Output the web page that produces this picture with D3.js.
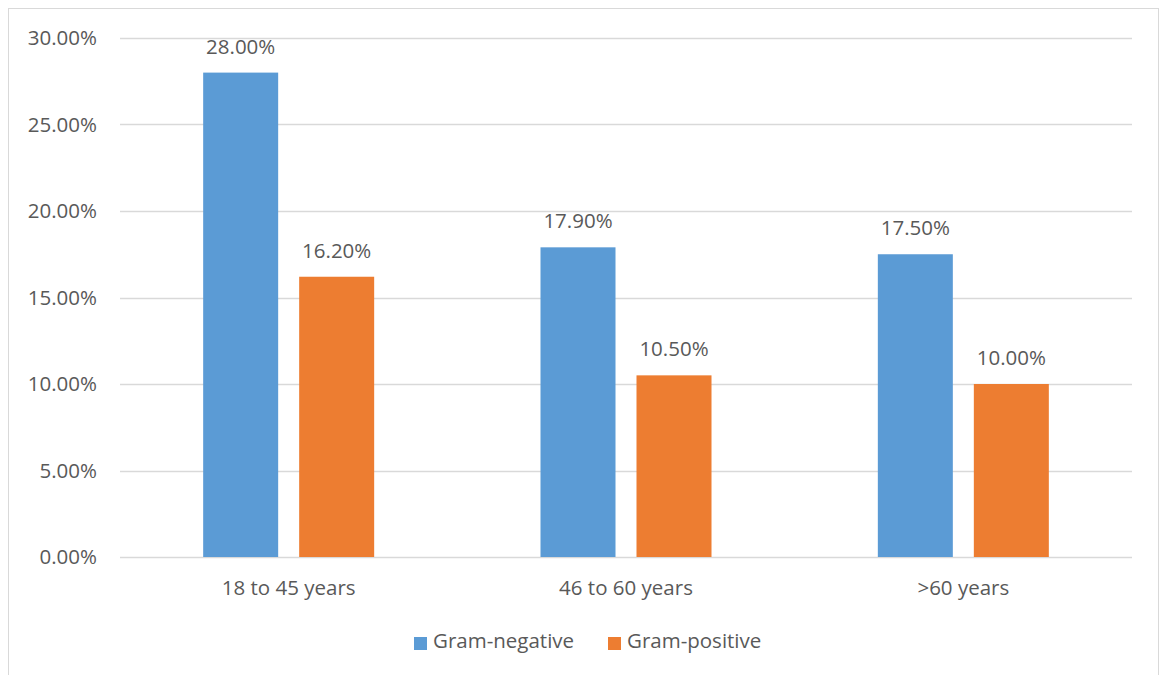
<!DOCTYPE html>
<html>
<head>
<meta charset="utf-8">
<script src="https://cdn.jsdelivr.net/npm/d3@7"></script>
<style>
  html, body { margin: 0; padding: 0; background: #fff; }
  svg text { font-family: "Open Sans", "Liberation Sans", sans-serif; fill: #595959; }
</style>
</head>
<body>
<svg id="chart" width="1160" height="675"></svg>
<script>
// Age groups and infection shares (%)
const categories = ["18 to 45 years", "46 to 60 years", ">60 years"];
const seriesNames = ["Gram-negative", "Gram-positive"];
const gramNegative = [28.0, 17.9, 17.5];
const gramPositive = [16.2, 10.5, 10.0];
const yTicks = [0, 5, 10, 15, 20, 25, 30];
const colors = ["#5b9bd5", "#ed7d31"];

const svg = d3.select("#chart");
const W = 1160, H = 675;
const FONT = "20.5px";

// chart frame
svg.append("rect")
  .attr("x", 8.5).attr("y", 8.5)
  .attr("width", W - 10).attr("height", H)
  .attr("fill", "#fff").attr("stroke", "#d9d9d9").attr("stroke-width", 1);

const plot = { left: 120, right: 1132, top: 38, bottom: 557 };

const x0 = d3.scaleBand()
  .domain(categories)
  .range([plot.left, plot.right])
  .paddingInner(0).paddingOuter(0);

// two bars of 75px with a 21px gap inside each group
const groupWidth = 171;
const x1 = d3.scaleBand()
  .domain(seriesNames)
  .range([0, groupWidth])
  .paddingInner(21 / 96);

const y = d3.scaleLinear().domain([0, 30]).range([plot.bottom, plot.top]);

// gridlines
svg.append("g")
  .selectAll("line")
  .data(yTicks)
  .join("line")
  .attr("x1", plot.left).attr("x2", plot.right)
  .attr("y1", d => Math.round(y(d)) + 0.5)
  .attr("y2", d => Math.round(y(d)) + 0.5)
  .attr("stroke", "#d9d9d9").attr("stroke-width", 1.5);

// y tick labels
svg.append("g")
  .selectAll("text")
  .data(yTicks)
  .join("text")
  .attr("x", 97)
  .attr("y", d => y(d) + 7)
  .attr("text-anchor", "end")
  .style("font-size", FONT)
  .text(d => d.toFixed(2) + "%");

const rows = categories.map((c, i) => ({
  category: c,
  values: [
    { series: seriesNames[0], value: gramNegative[i] },
    { series: seriesNames[1], value: gramPositive[i] }
  ]
}));

const groups = svg.append("g")
  .selectAll("g")
  .data(rows)
  .join("g")
  .attr("transform", d => `translate(${x0(d.category) + (x0.bandwidth() - groupWidth) / 2},0)`);

groups.selectAll("rect")
  .data(d => d.values)
  .join("rect")
  .attr("x", d => x1(d.series))
  .attr("width", x1.bandwidth())
  .attr("y", d => y(d.value))
  .attr("height", d => y(0) - y(d.value))
  .attr("fill", (d, i) => colors[i]);

groups.selectAll("text")
  .data(d => d.values)
  .join("text")
  .attr("x", d => x1(d.series) + x1.bandwidth() / 2)
  .attr("y", d => y(d.value) - 19)
  .attr("text-anchor", "middle")
  .style("font-size", FONT)
  .text(d => d.value.toFixed(2) + "%");

// category labels
svg.append("g")
  .selectAll("text")
  .data(categories)
  .join("text")
  .attr("x", d => x0(d) + x0.bandwidth() / 2)
  .attr("y", 595)
  .attr("text-anchor", "middle")
  .style("font-size", FONT)
  .text(d => d);

// legend
const legendItems = [
  { name: seriesNames[0], color: colors[0], x: 414 },
  { name: seriesNames[1], color: colors[1], x: 608 }
];
const lg = svg.append("g")
  .selectAll("g")
  .data(legendItems)
  .join("g")
  .attr("transform", d => `translate(${d.x},637)`);
lg.append("rect").attr("width", 13).attr("height", 13).attr("fill", d => d.color);
lg.append("text").attr("x", 19).attr("y", 11)
  .style("font-size", FONT).text(d => d.name);
</script>
</body>
</html>
